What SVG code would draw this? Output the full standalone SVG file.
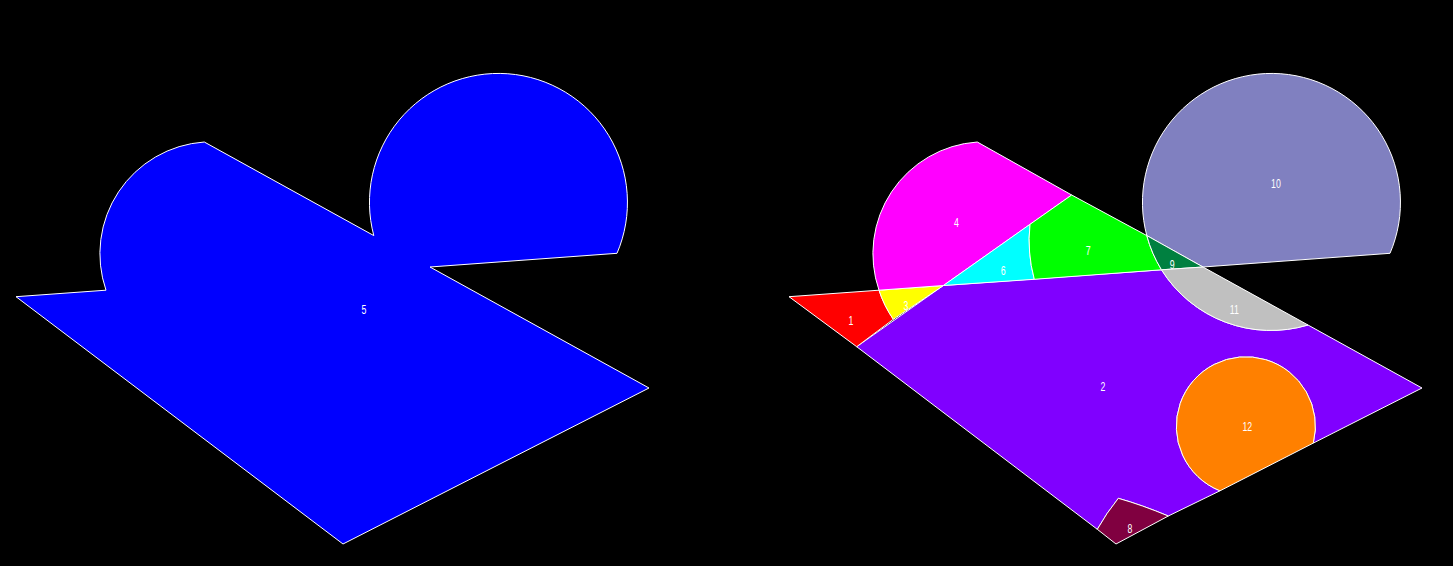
<svg xmlns="http://www.w3.org/2000/svg" width="1453" height="566" viewBox="0 0 1453 566">
<style>
.f{stroke:#ffffff;stroke-width:1;stroke-linejoin:miter}
.t{font-family:"Liberation Sans","DejaVu Sans",sans-serif;font-size:13.5px;fill:#ffffff;text-anchor:middle}
</style>
<rect x="0" y="0" width="1453" height="566" fill="#000000"/>
<g id="union5">
<path class="f" fill="#0000ff" d="M16,296.7 L106,290.2 A112,112 0 0 1 204.3,142 L373.8,235.6 A129,129 0 1 1 617,253.3 L430,267 L649,388 L343,544 Z"/>
<text class="t" transform="translate(364,314) scale(0.65,1)">5</text>
</g>
<g id="face10">
<path class="f" fill="#8080c0" d="M1146.8,235.6 A129,129 0 1 1 1390,253.3 L1203,267 Z"/>
<text class="t" transform="translate(1276,188) scale(0.65,1)">10</text>
</g>
<g id="face2">
<path class="f" fill="#8000ff" d="M856.7,346.7 L943.4,285.5 L1161.5,269.8 A129,129 0 0 0 1308,325 L1422,388 L1313.3,443.1 A69.5,69.5 0 1 0 1220,490.8 L1168.3,516 Q1142,505 1118.3,498.3 Q1106.5,513 1097.3,529.3 Z"/>
<text class="t" transform="translate(1103,391) scale(0.65,1)">2</text>
</g>
<g id="face1">
<path class="f" fill="#ff0000" d="M789,296.7 L879,290.2 A112,112 0 0 0 893.3,319.3 L856.7,346.7 Z"/>
<text class="t" transform="translate(851,325) scale(0.65,1)">1</text>
</g>
<g id="face3">
<path class="f" fill="#ffff00" d="M879,290.2 L943.4,285.5 L893.3,319.3 A112,112 0 0 1 879,290.2 Z"/>
<text class="t" transform="translate(906,310) scale(0.65,1)">3</text>
</g>
<g id="face4">
<path class="f" fill="#ff00ff" d="M879,290.2 A112,112 0 0 1 977.3,142 L1071.7,195 L943.4,285.5 Z"/>
<text class="t" transform="translate(956.5,227) scale(0.65,1)">4</text>
</g>
<g id="face6">
<path class="f" fill="#00ffff" d="M943.4,285.5 L1030,224.3 A150,150 0 0 0 1034.3,279.3 Z"/>
<text class="t" transform="translate(1003.3,275) scale(0.65,1)">6</text>
</g>
<g id="face7">
<path class="f" fill="#00ff00" d="M1071.7,195 L1146.8,235.6 A129,129 0 0 0 1161.5,269.8 L1034.3,279.3 A150,150 0 0 1 1030,224.3 Z"/>
<text class="t" transform="translate(1088.3,255) scale(0.65,1)">7</text>
</g>
<g id="face9">
<path class="f" fill="#008040" d="M1146.8,235.6 L1203,267 L1161.5,269.8 A129,129 0 0 1 1146.8,235.6 Z"/>
<text class="t" transform="translate(1172.3,268.5) scale(0.65,1)">9</text>
</g>
<g id="face11">
<path class="f" fill="#c0c0c0" d="M1161.5,269.8 L1203,267 L1308,325 A129,129 0 0 1 1161.5,269.8 Z"/>
<text class="t" transform="translate(1234.3,313.5) scale(0.65,1)">11</text>
</g>
<g id="face12">
<path class="f" fill="#ff8000" d="M1313.3,443.1 A69.5,69.5 0 1 0 1220,490.8 Z"/>
<text class="t" transform="translate(1247.3,431) scale(0.65,1)">12</text>
</g>
<g id="face8">
<path class="f" fill="#800040" d="M1118.3,498.3 Q1142,505 1168.3,516 L1116,544 L1097.3,529.3 Q1106.5,513 1118.3,498.3 Z"/>
<text class="t" transform="translate(1130,533) scale(0.65,1)">8</text>
</g>
<g id="connectors"></g>
</svg>
